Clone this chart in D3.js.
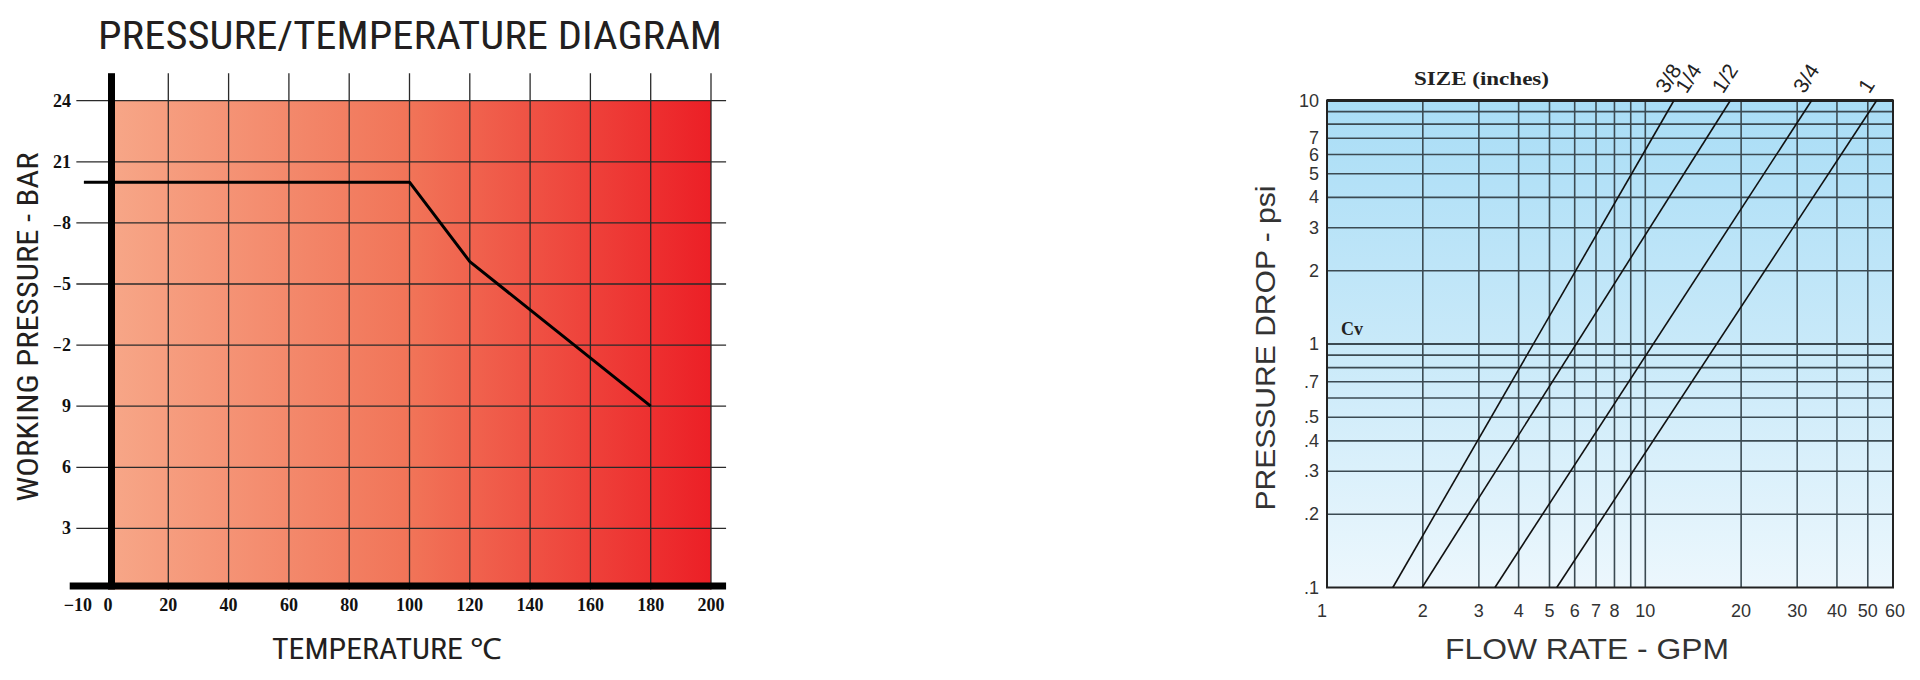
<!DOCTYPE html>
<html><head><meta charset="utf-8">
<script src="https://cdn.jsdelivr.net/npm/d3@7"></script>
<style>body{margin:0;background:#fff}svg{display:block}</style>
</head><body>
<svg id="c" width="1920" height="680"></svg>
<script>
// ---------- Left chart data: pressure / temperature ----------
const tempTicks = [-10, 0, 20, 40, 60, 80, 100, 120, 140, 160, 180, 200];
const tempTickLabels = ["\u221210", "0", "20", "40", "60", "80", "100", "120", "140", "160", "180", "200"];
const pressureTicks = [3, 6, 9, 12, 15, 18, 21, 24];
const pressureTickLabels = ["3", "6", "9", "\u208B2", "\u208B5", "\u208B8", "21", "24"];
const ratingTemp = [-8, 100, 120, 180];
const ratingPressure = [20, 20, 16.1, 9];

// ---------- Right chart data: pressure drop / flow ----------
const flowTicks = [1, 2, 3, 4, 5, 6, 7, 8, 10, 20, 30, 40, 50, 60];
const flowGrid = [2, 3, 4, 5, 6, 7, 8, 9, 10, 20, 30, 40, 50];
const dropTicks = [0.1, 0.2, 0.3, 0.4, 0.5, 0.7, 1, 2, 3, 4, 5, 6, 7, 10];
const dropTickLabels = [".1", ".2", ".3", ".4", ".5", ".7", "1", "2", "3", "4", "5", "6", "7", "10"];
const dropGrid = [0.2, 0.3, 0.4, 0.5, 0.6, 0.7, 0.8, 0.9, 1, 2, 3, 4, 5, 6, 7, 8, 9];
const sizeLowDrop = 0.1, sizeHighDrop = 10;
const sizeFlowAtLow = [1.61, 1.99, 3.37, 5.27];
const sizeFlowAtHigh = [12.3, 18.5, 33.3, 53.3];
const sizeLabels = ["3/8", "1/4", "1/2", "3/4", "1"];
const sizeLabelLine = [0, 0, 1, 2, 3];

const svg = d3.select("#c");
const defs = svg.append("defs");

// ===== LEFT =====
const xT = d3.scaleLinear().domain([0, 200]).range([108, 711]);
const yP = d3.scaleLinear().domain([0, 24]).range([589.5, 100.7]);

const gl = defs.append("linearGradient").attr("id", "gl")
  .attr("x1", "0%").attr("x2", "100%").attr("y1", "0%").attr("y2", "0%");
[["0%", "#f7a788"], ["50%", "#f17458"], ["100%", "#ec1f26"]].forEach(s =>
  gl.append("stop").attr("offset", s[0]).attr("stop-color", s[1]));

const L = svg.append("g");
L.append("rect").attr("x", xT(0)).attr("y", yP(24))
  .attr("width", xT(200) - xT(0)).attr("height", yP(0) - yP(24))
  .attr("fill", "url(#gl)");

L.selectAll("line.hg").data(pressureTicks).join("line").attr("class", "hg")
  .attr("x1", xT(-10.5)).attr("x2", xT(205)).attr("y1", d => yP(d)).attr("y2", d => yP(d))
  .attr("stroke", "#2a2a2a").attr("stroke-width", 1.3);
L.selectAll("line.vg").data(tempTicks.filter(d => d > 0)).join("line").attr("class", "vg")
  .attr("x1", d => xT(d)).attr("x2", d => xT(d)).attr("y1", yP(25.35)).attr("y2", yP(0))
  .attr("stroke", "#2a2a2a").attr("stroke-width", 1.3);

const ratingLine = d3.line().x((d, i) => xT(ratingTemp[i])).y(d => yP(d));
L.append("path").datum(ratingPressure).attr("d", ratingLine)
  .attr("fill", "none").attr("stroke", "#000").attr("stroke-width", 3).attr("stroke-linejoin", "round");

// thick axes
L.append("rect").attr("x", xT(0)).attr("y", yP(25.35)).attr("width", 7)
  .attr("height", yP(0) - yP(25.35)).attr("fill", "#000");
L.append("rect").attr("x", xT(-12.7)).attr("y", yP(0) - 7)
  .attr("width", xT(205) - xT(-12.7)).attr("height", 7).attr("fill", "#000");

const serifTick = "'Liberation Serif','DejaVu Serif',serif";
L.selectAll("text.xt").data(tempTicks).join("text").attr("class", "xt")
  .attr("x", d => xT(d)).attr("y", 611).attr("text-anchor", "middle")
  .attr("font-family", serifTick).attr("font-weight", "bold").attr("font-size", 18).attr("fill", "#111")
  .text((d, i) => tempTickLabels[i]);
L.selectAll("text.yt").data(pressureTicks).join("text").attr("class", "yt")
  .attr("x", 71).attr("y", d => yP(d) + 6).attr("text-anchor", "end")
  .attr("font-family", serifTick).attr("font-weight", "bold").attr("font-size", 18).attr("fill", "#111")
  .text((d, i) => pressureTickLabels[i]);

const narrow = "'Liberation Sans Narrow','Roboto Condensed','Roboto','Liberation Sans',sans-serif";
svg.append("text").attr("x", 410).attr("y", 49).attr("text-anchor", "middle")
  .attr("font-family", narrow).attr("font-size", 38).attr("fill", "#231f20")
  .attr("textLength", 624).attr("lengthAdjust", "spacingAndGlyphs")
  .text("PRESSURE/TEMPERATURE DIAGRAM");
svg.append("text").attr("x", 387).attr("y", 659).attr("text-anchor", "middle")
  .attr("font-family", narrow).attr("font-size", 29).attr("fill", "#231f20")
  .attr("textLength", 230).attr("lengthAdjust", "spacingAndGlyphs")
  .text("TEMPERATURE \u2103");
svg.append("text").attr("transform", "translate(38,327) rotate(-90)").attr("text-anchor", "middle")
  .attr("font-family", narrow).attr("font-size", 29).attr("fill", "#231f20")
  .attr("textLength", 349).attr("lengthAdjust", "spacingAndGlyphs")
  .text("WORKING PRESSURE - BAR");

// ===== RIGHT =====
const xF = d3.scaleLog().domain([1, 60]).range([1327, 1893]);
const yD = d3.scaleLog().domain([0.1, 10]).range([587.5, 100.5]);

const gr = defs.append("linearGradient").attr("id", "gr")
  .attr("x1", "0%").attr("x2", "0%").attr("y1", "0%").attr("y2", "100%");
[["0%", "#a9ddf6"], ["50%", "#c8e9f9"], ["100%", "#ecf7fd"]].forEach(s =>
  gr.append("stop").attr("offset", s[0]).attr("stop-color", s[1]));

const R = svg.append("g");
R.append("rect").attr("x", xF(1)).attr("y", yD(10))
  .attr("width", xF(60) - xF(1)).attr("height", yD(0.1) - yD(10)).attr("fill", "url(#gr)");

R.selectAll("line.hg").data(dropGrid).join("line").attr("class", "hg")
  .attr("x1", xF(1)).attr("x2", xF(60)).attr("y1", d => yD(d)).attr("y2", d => yD(d))
  .attr("stroke", "#3b4a52").attr("stroke-width", d => d === 1 ? 2.2 : 1.6);
R.selectAll("line.vg").data(flowGrid).join("line").attr("class", "vg")
  .attr("x1", d => xF(d)).attr("x2", d => xF(d)).attr("y1", yD(10)).attr("y2", yD(0.1))
  .attr("stroke", "#3b4a52").attr("stroke-width", 1.6);

R.append("rect").attr("x", xF(1)).attr("y", yD(10))
  .attr("width", xF(60) - xF(1)).attr("height", yD(0.1) - yD(10))
  .attr("fill", "none").attr("stroke", "#222").attr("stroke-width", 2);
R.append("line").attr("x1", xF(1)).attr("x2", xF(60)).attr("y1", yD(10)).attr("y2", yD(10))
  .attr("stroke", "#222").attr("stroke-width", 3);

R.selectAll("line.sz").data(sizeFlowAtLow).join("line").attr("class", "sz")
  .attr("x1", d => xF(d)).attr("y1", yD(sizeLowDrop))
  .attr("x2", (d, i) => xF(sizeFlowAtHigh[i])).attr("y2", yD(sizeHighDrop))
  .attr("stroke", "#111").attr("stroke-width", 1.6);

const sans = "'Liberation Sans','Arimo',Arial,sans-serif";
R.selectAll("text.sl").data(sizeLabels).join("text").attr("class", "sl")
  .attr("transform", (d, i) => {
    const k = sizeLabelLine.slice(0, i).filter(v => v === sizeLabelLine[i]).length;
    const x = xF(sizeFlowAtHigh[sizeLabelLine[i]]) - 12 + 20 * k;
    const y = yD(sizeHighDrop) - 9;
    return `translate(${x},${y}) rotate(-57)`;
  })
  .attr("dominant-baseline", "middle")
  .attr("font-family", sans).attr("font-size", 21).attr("fill", "#222")
  .text(d => d);

R.selectAll("text.xt").data(flowTicks).join("text").attr("class", "xt")
  .attr("x", d => xF(d) + (d === 1 ? -5 : d === 60 ? 2 : 0)).attr("y", 617).attr("text-anchor", "middle")
  .attr("font-family", sans).attr("font-size", 18).attr("fill", "#333")
  .text(d => d);
R.selectAll("text.yt").data(dropTicks).join("text").attr("class", "yt")
  .attr("x", xF(1) - 8).attr("y", d => yD(d) + 6).attr("text-anchor", "end")
  .attr("font-family", sans).attr("font-size", 18).attr("fill", "#333")
  .text((d, i) => dropTickLabels[i]);

R.append("text").attr("x", xF(1) + 14).attr("y", 335)
  .attr("font-family", serifTick).attr("font-weight", "bold").attr("font-size", 18).attr("fill", "#222")
  .text("Cv");
R.append("text").attr("x", 1414).attr("y", 85)
  .attr("font-family", serifTick).attr("font-weight", "bold").attr("font-size", 18).attr("fill", "#222")
  .attr("textLength", 135).attr("lengthAdjust", "spacingAndGlyphs")
  .text("SIZE  (inches)");

R.append("text").attr("transform", "translate(1275,348) rotate(-90)").attr("text-anchor", "middle")
  .attr("font-family", sans).attr("font-size", 28).attr("fill", "#333")
  .attr("textLength", 325).attr("lengthAdjust", "spacingAndGlyphs")
  .text("PRESSURE DROP - psi");
R.append("text").attr("x", 1587).attr("y", 659).attr("text-anchor", "middle")
  .attr("font-family", sans).attr("font-size", 30).attr("fill", "#333")
  .attr("textLength", 284).attr("lengthAdjust", "spacingAndGlyphs")
  .text("FLOW RATE - GPM");
</script>
</body></html>
